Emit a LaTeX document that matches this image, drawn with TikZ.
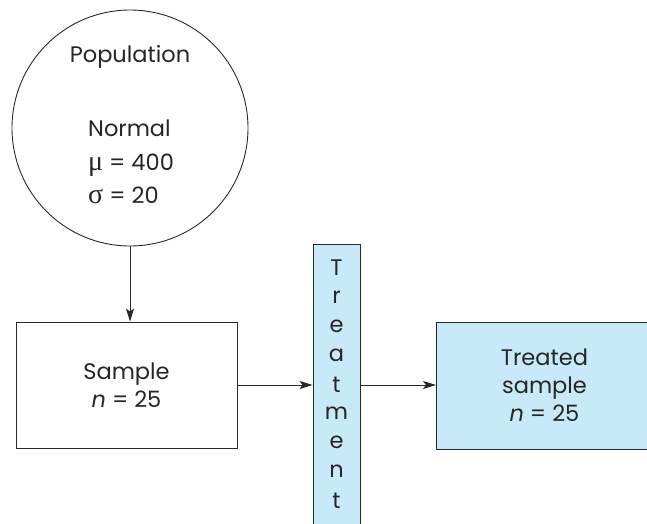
\documentclass[tikz,border=0pt]{standalone}
\usepackage{fontspec}
\setmainfont{Poppins}
\newfontfamily\grk{Liberation Serif}
\usetikzlibrary{arrows.meta}
\definecolor{lblue}{RGB}{200,233,248}
\definecolor{lineg}{RGB}{40,40,40}
\tikzset{
  every node/.style={font=\fontsize{22.5}{28}\selectfont, text=black!85},
  box/.style={draw=lineg, line width=0.9pt, inner sep=0pt},
  conn/.style={draw=lineg, line width=0.9pt, -{Stealth[length=13pt,width=8pt,inset=3pt]}},
}
\begin{document}
\begin{tikzpicture}[x=1pt,y=-1pt]
\useasboundingbox (0,0) rectangle (647,523);
\clip (0,0) rectangle (647,523);
\node[box, circle, minimum size=236pt] (pop) at (130,128) {};
\node (poplab) at (130,57) {Population};
\node[anchor=west, inner sep=0pt] (norm) at (88,128) {Normal};
\node[anchor=west, inner sep=0pt] (mu) at (88,165) {{\grk\fontsize{28}{28}\selectfont μ} = 400};
\node[anchor=west, inner sep=0pt] (sig) at (88,195) {{\grk\fontsize{28}{28}\selectfont σ} = 20};
\node[box, minimum width=221pt, minimum height=126pt, align=center] (sample) at (126.5,385) {Sample\\\textit{n} = 25};
\node[box, fill=lblue, minimum width=47pt, minimum height=300pt, anchor=north] (treat) at (336.5,244) {};
\foreach \ch [count=\i from 0] in {T,r,e,a,t,m,e,n,t}
  \node (tl\i) at (336.5,{268+29.1*\i}) {\ch};
\node[box, fill=lblue, minimum width=216pt, minimum height=127pt, anchor=west, align=center] (treated) at (436,385.5) {Treated\\sample\\\textit{n} = 25};
\draw[conn] (pop.south) -- (pop.south |- sample.north);
\draw[conn] (sample.east) -- (sample.east -| treat.west);
\draw[conn] (sample.east -| treat.east) -- (sample.east -| treated.west);
\end{tikzpicture}
\end{document}
